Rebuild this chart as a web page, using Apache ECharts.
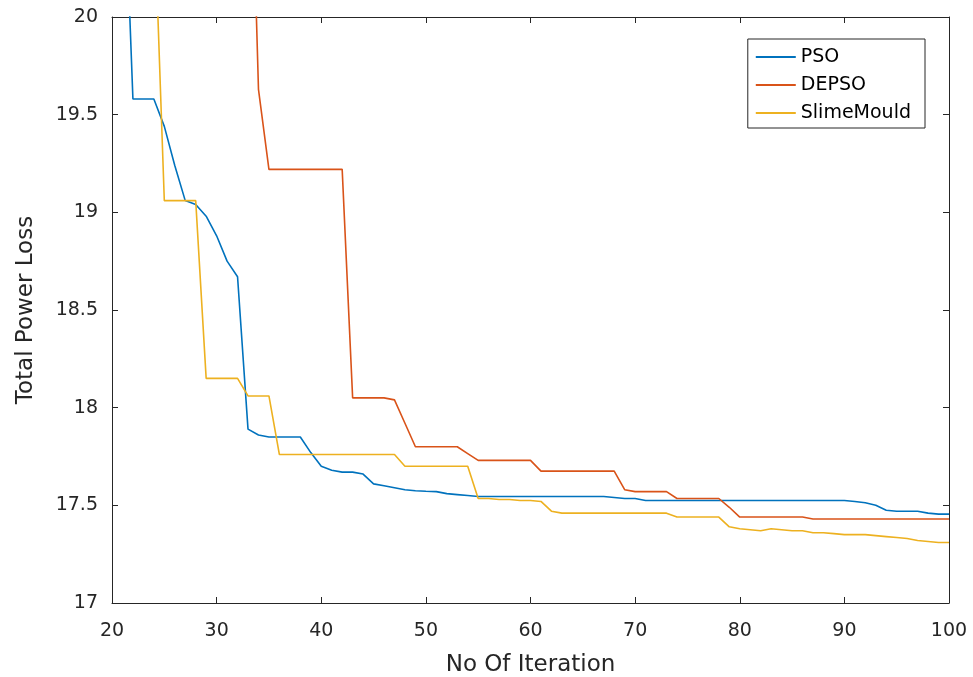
<!DOCTYPE html>
<html>
<head>
<meta charset="utf-8">
<script src="https://cdn.jsdelivr.net/npm/echarts@6/dist/echarts.min.js"></script>
<style>
html,body{margin:0;padding:0;background:#fff;}
#chart{width:973px;height:677px;}
</style>
</head>
<body>
<div id="chart"></div>
<script>
// Iteration numbers (x values)
const iterations = [20,21,22,23,24,25,26,27,28,29,30,31,32,33,34,35,36,37,38,39,40,41,42,43,44,45,46,47,48,49,50,51,52,53,54,55,56,57,58,59,60,61,62,63,64,65,66,67,68,69,70,71,72,73,74,75,76,77,78,79,80,81,82,83,84,85,86,87,88,89,90,91,92,93,94,95,96,97,98,99,100];

const seriesNames = ['PSO', 'DEPSO', 'SlimeMould'];

const psoLoss = [
  null, 21.0, 19.58, 19.58, 19.58, 19.44, 19.24, 19.06, 19.04, 18.98,
  18.88, 18.75, 18.67, 17.89, 17.86, 17.85, 17.85, 17.85, 17.85, 17.77,
  17.70, 17.68, 17.67, 17.67, 17.66, 17.61, 17.60, 17.59, 17.58, 17.575,
  17.572, 17.57, 17.56, 17.555, 17.55, 17.545, 17.545, 17.545, 17.545, 17.545,
  17.545, 17.545, 17.545, 17.545, 17.545, 17.545, 17.545, 17.545, 17.54, 17.535,
  17.535, 17.525, 17.525, 17.525, 17.525, 17.525, 17.525, 17.525, 17.525, 17.525,
  17.525, 17.525, 17.525, 17.525, 17.525, 17.525, 17.525, 17.525, 17.525, 17.525,
  17.525, 17.52, 17.513, 17.50, 17.475, 17.47, 17.47, 17.47, 17.46, 17.455,
  17.455
];

const depsoLoss = [
  null, null, null, null, null, null, null, null, null, null,
  null, null, null, 21.5, 19.63, 19.22, 19.22, 19.22, 19.22, 19.22,
  19.22, 19.22, 19.22, 18.05, 18.05, 18.05, 18.05, 18.04, 17.92, 17.80,
  17.80, 17.80, 17.80, 17.80, 17.765, 17.73, 17.73, 17.73, 17.73, 17.73,
  17.73, 17.675, 17.675, 17.675, 17.675, 17.675, 17.675, 17.675, 17.675, 17.58,
  17.57, 17.57, 17.57, 17.57, 17.535, 17.535, 17.535, 17.535, 17.535, 17.49,
  17.44, 17.44, 17.44, 17.44, 17.44, 17.44, 17.44, 17.43, 17.43, 17.43,
  17.43, 17.43, 17.43, 17.43, 17.43, 17.43, 17.43, 17.43, 17.43, 17.43,
  17.43
];

const slimeLoss = [
  null, null, null, null, 20.6, 19.06, 19.06, 19.06, 19.06, 18.15,
  18.15, 18.15, 18.15, 18.06, 18.06, 18.06, 17.76, 17.76, 17.76, 17.76,
  17.76, 17.76, 17.76, 17.76, 17.76, 17.76, 17.76, 17.76, 17.70, 17.70,
  17.70, 17.70, 17.70, 17.70, 17.70, 17.535, 17.535, 17.53, 17.53, 17.525,
  17.525, 17.52, 17.47, 17.46, 17.46, 17.46, 17.46, 17.46, 17.46, 17.46,
  17.46, 17.46, 17.46, 17.46, 17.44, 17.44, 17.44, 17.44, 17.44, 17.39,
  17.38, 17.375, 17.37, 17.38, 17.375, 17.37, 17.37, 17.36, 17.36, 17.355,
  17.35, 17.35, 17.35, 17.345, 17.34, 17.335, 17.33, 17.32, 17.315, 17.31,
  17.31
];

const xTicks = {min: 20, max: 100, interval: 10};
const yTicks = {min: 17, max: 20, interval: 0.5};

const colors = ['#0072BD', '#D95319', '#EDB120'];
const axisColor = '#262626';
const fontFam = 'DejaVu Sans';

function pairs(vals) {
  return iterations.map((x, i) => [x, vals[i]]);
}

const chart = echarts.init(document.getElementById('chart'), null, {renderer: 'canvas'});

const baseAxis = {
  type: 'value',
  axisLine: {show: true, onZero: false, lineStyle: {color: axisColor, width: 1}},
  axisTick: {show: true, inside: true, length: 6, lineStyle: {color: axisColor, width: 1}},
  splitLine: {show: false}
};

chart.setOption({
  animation: false,
  backgroundColor: '#ffffff',
  color: colors,
  grid: {left: 112, right: 24, top: 17, bottom: 74, containLabel: false, outerBoundsMode: 'none'},
  legend: {
    data: seriesNames.map((n, i) => ({name: n, icon: 'rect', itemStyle: {color: colors[i]}})),
    orient: 'vertical',
    right: 48,
    top: 39,
    itemWidth: 40,
    itemHeight: 2,
    itemGap: 8,
    padding: [8, 14, 5, 8],
    borderColor: axisColor,
    borderWidth: 1,
    backgroundColor: '#ffffff',
    textStyle: {fontFamily: fontFam, fontSize: 19, color: '#000', lineHeight: 20}
  },
  xAxis: [
    Object.assign({}, baseAxis, {
      min: xTicks.min, max: xTicks.max, interval: xTicks.interval,
      position: 'bottom',
      axisLabel: {fontFamily: fontFam, fontSize: 19, color: axisColor, margin: 19},
      name: 'No Of Iteration', nameLocation: 'middle', nameGap: 51,
      nameTextStyle: {fontFamily: fontFam, fontSize: 23, color: axisColor}
    }),
    Object.assign({}, baseAxis, {
      min: xTicks.min, max: xTicks.max, interval: xTicks.interval,
      position: 'top',
      axisLabel: {show: false}
    })
  ],
  yAxis: [
    Object.assign({}, baseAxis, {
      min: yTicks.min, max: yTicks.max, interval: yTicks.interval,
      position: 'left',
      axisLabel: {fontFamily: fontFam, fontSize: 19, color: axisColor, margin: 14},
      name: 'Total Power Loss', nameLocation: 'middle', nameGap: 74,
      nameTextStyle: {fontFamily: fontFam, fontSize: 23, color: axisColor}
    }),
    Object.assign({}, baseAxis, {
      min: yTicks.min, max: yTicks.max, interval: yTicks.interval,
      position: 'right',
      axisLabel: {show: false}
    })
  ],
  series: [psoLoss, depsoLoss, slimeLoss].map((vals, i) => ({
    name: seriesNames[i],
    type: 'line',
    xAxisIndex: 0,
    yAxisIndex: 0,
    symbol: 'none',
    showSymbol: false,
    clip: true,
    data: pairs(vals),
    lineStyle: {color: colors[i], width: 1.6},
    itemStyle: {color: colors[i]}
  }))
});
</script>
</body>
</html>
